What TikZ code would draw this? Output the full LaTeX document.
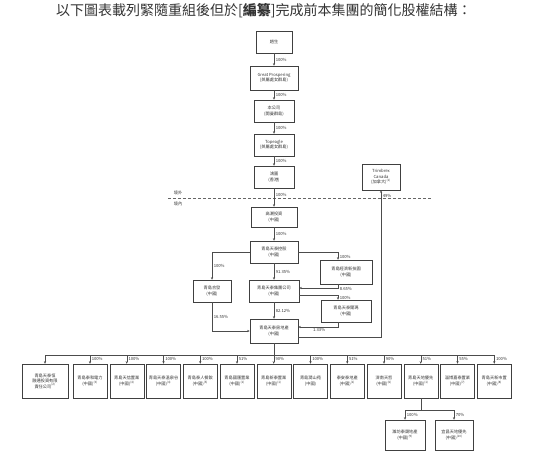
\documentclass[tikz,border=0pt]{standalone}
\usepackage{fontspec}
\setmainfont{Noto Sans CJK TC}
\usetikzlibrary{arrows.meta}
\begin{document}
\begin{tikzpicture}[x=1pt,y=-1pt,
  box/.style={draw=black!75, line width=0.5pt, align=center, inner sep=0pt,
    font=\fontsize{4.2}{5.4}\selectfont, text=black!80},
  conn/.style={draw=black!70, line width=0.5pt, -{Stealth[length=2.6pt,width=2.2pt]}},
  plain/.style={draw=black!70, line width=0.5pt},
  pct/.style={font=\fontsize{4.2}{5}\selectfont, text=black!80, inner sep=0.5pt, anchor=west, xshift=1pt},
  lbl/.style={font=\fontsize{4.2}{5}\selectfont, text=black!80, inner sep=0pt},
  bbox/.style={box, minimum width=34pt, minimum height=34pt},
  ]
\useasboundingbox[fill=white] (0,0) rectangle (537,456);

\node[anchor=west, font=\fontsize{14}{16}\selectfont, text=black!80, inner sep=0pt] (title) at (56,11)
  {以下圖表載列緊隨重組後但於[\textbf{編纂}]完成前本集團的簡化股權結構：};

% top chain
\node[box, minimum width=36pt, minimum height=22pt] (n1) at (274,42) {趙生};
\node[box, minimum width=48pt, minimum height=24pt] (n2) at (274,78) {Great Prospering\\(英屬處女群島)};
\node[box, minimum width=40pt, minimum height=22pt] (n3) at (274,111) {本公司\\(開曼群島)};
\node[box, minimum width=40pt, minimum height=22pt] (n4) at (274,145) {Topeagle\\(英屬處女群島)};
\node[box, minimum width=40pt, minimum height=22pt] (n5) at (274,177) {鴻圖\\(香港)};
\node[box, minimum width=38pt, minimum height=26pt] (tc) at (381,177) {Trimbrex\\Canada\\(加拿大)\textsuperscript{(1)}};

\draw[black!60, line width=0.5pt, dash pattern=on 3pt off 2pt] (168,198) -- (432,198);
\node[lbl] (out) at (178,193) {境外};
\node[lbl] (in) at (178,204) {境內};

\node[box, minimum width=46pt, minimum height=20pt] (n6) at (274,217) {高潮投資\\(中國)};
\node[box, minimum width=48pt, minimum height=22pt] (n7) at (274,252) {青島天泰控股\\(中國)};
\node[box, minimum width=38pt, minimum height=22pt] (n8) at (212,291) {青島合發\\(中國)};
\node[box, minimum width=52pt, minimum height=24pt] (n9) at (346,272) {青島經濟新技園\\(中國)};
\node[box, minimum width=50pt, minimum height=22pt] (n10) at (274,291) {青島天泰集團公司\\(中國)};
\node[box, minimum width=50pt, minimum height=22pt] (n11) at (346,311) {青島天泰爾瑪\\(中國)};
\node[box, minimum width=48pt, minimum height=24pt] (n12) at (274,331) {青島天泰房地產\\(中國)};

\draw[conn] (n1) -- (n2) node[pct, midway] {100\%};
\draw[conn] (n2) -- (n3) node[pct, midway] {100\%};
\draw[conn] (n3) -- (n4) node[pct, midway] {100\%};
\draw[conn] (n4) -- (n5) node[pct, midway] {100\%};
\draw[conn] (n5) -- (n6) node[pct, pos=0.35] {100\%};
\draw[conn] (n6) -- (n7) node[pct, midway] {100\%};
\draw[conn] (n7) -- (n10) node[pct, midway] {91.35\%};
\draw[conn] (n10) -- (n12) node[pct, midway] {82.12\%};
\draw[conn] (n7.west) -| (n8.north) node[pct, pos=0.75] {100\%};
\draw[conn] (n7.east) -| ([xshift=-8pt]n9.north) node[pct, pos=0.8] {100\%};
\draw[conn] ([xshift=-8pt]n9.south) |- ([yshift=3pt]n10.east) node[pct, pos=0.3, anchor=north west] {8.65\%};
\draw[conn] ([yshift=-4pt]n10.east) -| ([xshift=-8pt]n11.north) node[pct, pos=0.8] {100\%};
\draw[conn] ([xshift=-8pt]n11.south) |- ([yshift=4pt]n12.east) node[pct, pos=0.75, anchor=north, xshift=0pt, yshift=-1pt] {1.33\%};
\draw[conn] (n8.south) |- (n12.west) node[pct, pos=0.25] {16.55\%};
\draw[conn] ([yshift=-6pt]n12.east) -| (tc.south) node[pct, pos=0.99, anchor=north west] {49\%};

% bottom row
\node[box, minimum width=46pt, minimum height=34pt] (b1) at (45,381) {青島天泰恒\\融通投資有限\\責任公司\textsuperscript{(2)}};
\node[bbox] (b2) at (90,381) {青島泰和電力\\(中國)\textsuperscript{(3)}};
\node[bbox] (b3) at (126.75,381) {青島天信置業\\(中國)\textsuperscript{(4)}};
\node[bbox] (b4) at (163.5,381) {青島天泰溫泉谷\\(中國)\textsuperscript{(4)}};
\node[bbox] (b5) at (200.25,381) {青島泰人餐飲\\(中國)\textsuperscript{(5)}};
\node[bbox] (b6) at (237,381) {青島國匯置業\\(中國)\textsuperscript{(1)}};
\node[bbox] (b7) at (273.75,381) {青島新泰置業\\(中國)\textsuperscript{(1)}};
\node[bbox] (b8) at (310.5,381) {青島潤山苑\\(中國)};
\node[bbox] (b9) at (347.25,381) {泰安泰地產\\(中國)\textsuperscript{(1)}};
\node[bbox] (b10) at (384,381) {濟南天哲\\(中國)\textsuperscript{(6)}};
\node[bbox] (b11) at (420.75,381) {青島天地優先\\(中國)\textsuperscript{(1)}};
\node[bbox] (b12) at (457.5,381) {淄博嘉泰置業\\(中國)\textsuperscript{(7)}};
\node[bbox] (b13) at (494.25,381) {青島天新市置\\(中國)\textsuperscript{(8)}};

\coordinate (bus) at (274,355);
\draw[plain] (n12.south) -- (bus);
\draw[plain] (b1.north |- bus) -- (b13.north |- bus);
\draw[conn] (b1.north |- bus) -- (b1.north);
\draw[conn] (b2.north |- bus) -- (b2.north) node[pct, midway] {100\%};
\draw[conn] (b3.north |- bus) -- (b3.north) node[pct, midway] {100\%};
\draw[conn] (b4.north |- bus) -- (b4.north) node[pct, midway] {100\%};
\draw[conn] (b5.north |- bus) -- (b5.north) node[pct, midway] {100\%};
\draw[conn] (b6.north |- bus) -- (b6.north) node[pct, midway] {51\%};
\draw[conn] (b7.north |- bus) -- (b7.north) node[pct, midway] {90\%};
\draw[conn] (b8.north |- bus) -- (b8.north) node[pct, midway] {100\%};
\draw[conn] (b9.north |- bus) -- (b9.north) node[pct, midway] {51\%};
\draw[conn] (b10.north |- bus) -- (b10.north) node[pct, midway] {90\%};
\draw[conn] (b11.north |- bus) -- (b11.north) node[pct, midway] {51\%};
\draw[conn] (b12.north |- bus) -- (b12.north) node[pct, midway] {55\%};
\draw[conn] (b13.north |- bus) -- (b13.north) node[pct, midway] {100\%};

% sub level
\node[box, minimum width=40pt, minimum height=30pt] (s1) at (405,435) {濰坊泰晟地產\\(中國)\textsuperscript{(9)}};
\node[box, minimum width=38pt, minimum height=30pt] (s2) at (454,435) {宜昌天地優先\\(中國)\textsuperscript{(10)}};
\coordinate (sbus) at (420.75,410);
\draw[plain] (b11.south) -- (sbus);
\draw[plain] (s1.north |- sbus) -- (s2.north |- sbus);
\draw[conn] (s1.north |- sbus) -- (s1.north) node[pct, midway] {100\%};
\draw[conn] (s2.north |- sbus) -- (s2.north) node[pct, midway] {70\%};
\end{tikzpicture}
\end{document}
